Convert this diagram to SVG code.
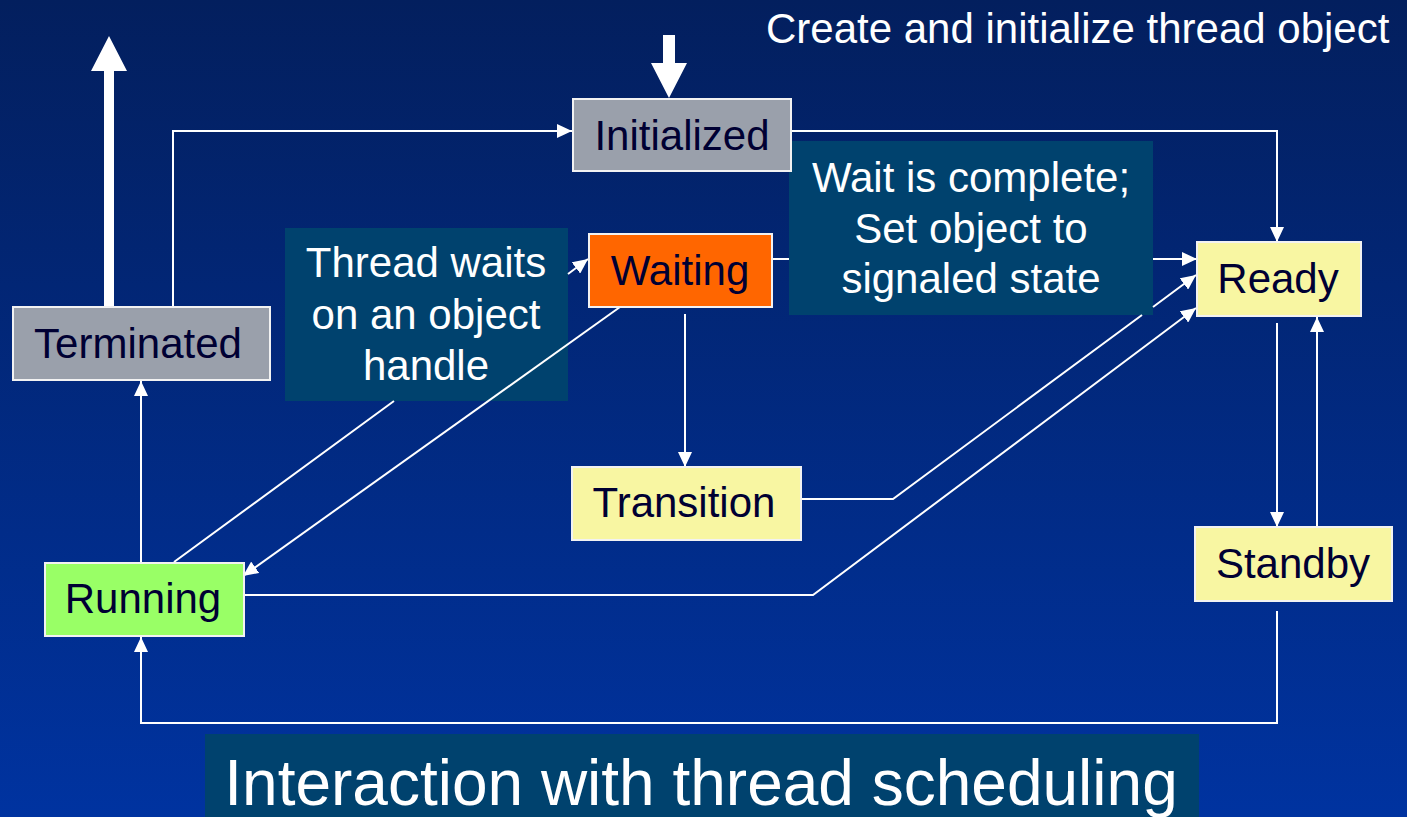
<svg xmlns="http://www.w3.org/2000/svg" width="1407" height="817" viewBox="0 0 1407 817">
  <defs>
    <linearGradient id="bg" x1="0" y1="0" x2="0" y2="1">
      <stop offset="0" stop-color="#031f5e"/>
      <stop offset="1" stop-color="#0033a0"/>
    </linearGradient>
    <marker id="arrow" markerUnits="userSpaceOnUse" markerWidth="16" markerHeight="14" refX="15" refY="7" orient="auto">
      <path d="M0,0 L15,7 L0,14 z" fill="#ffffff"/>
    </marker>
    <style>
      .node rect { stroke: #f2f2f2; stroke-width: 2; }
      .grey { fill: #9aa0ab; }
      .orange { fill: #ff6600; }
      .yellow { fill: #f8f6a2; }
      .green { fill: #99ff66; }
      .node text { font-family: "Liberation Sans", Arial, sans-serif; font-size: 42px; fill: #000033; text-anchor: middle; }
      .label rect { fill: #00426e; }
      .label text { font-family: "Liberation Sans", Arial, sans-serif; font-size: 42px; fill: #ffffff; text-anchor: middle; }
      .conn path { fill: none; stroke: #ffffff; stroke-width: 2; marker-end: url(#arrow); }
      .thick { fill: #ffffff; }
    </style>
  </defs>

  <rect width="1407" height="817" fill="url(#bg)"/>

  <!-- caption boxes -->
  <g id="label-thread-waits" class="label">
    <rect x="285" y="228" width="283" height="173"/>
    <text x="426" y="277">Thread waits</text>
    <text x="426" y="329">on an object</text>
    <text x="426" y="380">handle</text>
  </g>
  <g id="label-wait-complete" class="label">
    <rect x="789" y="141" width="364" height="174"/>
    <text x="971" y="192">Wait is complete;</text>
    <text x="971" y="243">Set object to</text>
    <text x="971" y="293">signaled state</text>
  </g>

  <!-- transitions between states -->
  <g id="connectors" class="conn">
    <path id="terminated-initialized" d="M173,307 V131 H572"/>
    <path id="initialized-ready" d="M791,131 H1277 V242"/>
    <path id="running-waiting" d="M174,562 L394,401 M568,274 L588,259"/>
    <path id="waiting-running" d="M620,307 L243,576"/>
    <path id="waiting-transition" d="M685,314 V467"/>
    <path id="waiting-ready" d="M772,259 H789 M1153,259 H1197"/>
    <path id="transition-ready" d="M801,499 H893 L1142,315 M1153,307 L1196,275"/>
    <path id="running-ready" d="M244,595 H813 L1196,308"/>
    <path id="ready-standby" d="M1277,323 V527"/>
    <path id="standby-ready" d="M1317,526 V317"/>
    <path id="standby-running" d="M1277,611 V723 H141 V637"/>
    <path id="running-terminated" d="M141,562 V381"/>
    <!-- entry and exit of the thread's life -->
    <polygon class="thick" points="104,307 104,71 91,71 109,36 127,71 114,71 114,307"/>
    <polygon class="thick" points="663,35 675,35 675,63 687,63 669,98 651,63 663,63"/>
  </g>

  <!-- states -->
  <g id="node-initialized" class="node">
    <rect class="grey" x="573" y="99" width="218" height="72"/>
    <text x="682" y="150">Initialized</text>
  </g>
  <g id="node-waiting" class="node">
    <rect class="orange" x="589" y="234" width="183" height="73"/>
    <text x="680" y="285">Waiting</text>
  </g>
  <g id="node-terminated" class="node">
    <rect class="grey" x="13" y="307" width="257" height="73"/>
    <text x="138" y="358">Terminated</text>
  </g>
  <g id="node-transition" class="node">
    <rect class="yellow" x="572" y="467" width="229" height="73"/>
    <text x="684" y="517">Transition</text>
  </g>
  <g id="node-ready" class="node">
    <rect class="yellow" x="1197" y="242" width="164" height="74"/>
    <text x="1278" y="293">Ready</text>
  </g>
  <g id="node-standby" class="node">
    <rect class="yellow" x="1195" y="527" width="197" height="74"/>
    <text x="1293" y="578">Standby</text>
  </g>
  <g id="node-running" class="node">
    <rect class="green" x="45" y="563" width="199" height="73"/>
    <text x="143" y="613">Running</text>
  </g>

  <text id="create-note" x="766" y="43" font-family="Liberation Sans, Arial, sans-serif" font-size="42" fill="#ffffff">Create and initialize thread object</text>

  <g id="title">
    <rect x="205" y="734" width="994" height="83" fill="#00426e"/>
    <text x="701" y="805" font-family="Liberation Sans, Arial, sans-serif" font-size="64" fill="#ffffff" text-anchor="middle">Interaction with thread scheduling</text>
  </g>
</svg>
